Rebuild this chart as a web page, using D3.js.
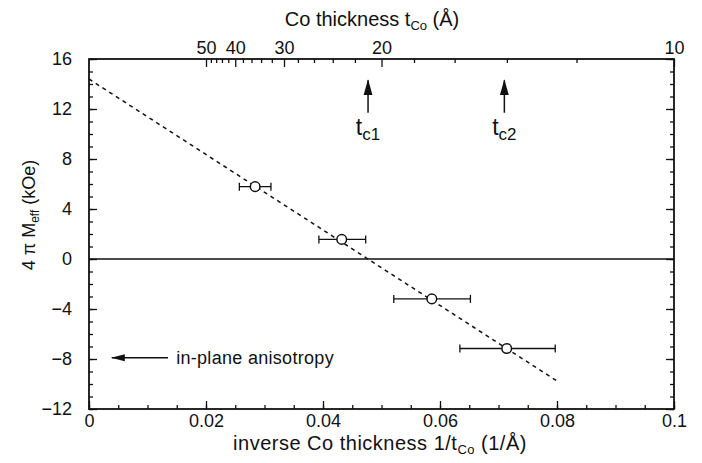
<!DOCTYPE html>
<html><head><meta charset="utf-8">
<script src="https://cdn.jsdelivr.net/npm/d3@7"></script>
<style>body{margin:0;background:#fff}svg text{font-family:"Liberation Sans",Arial,sans-serif;fill:#111}</style>
</head><body><svg id="c" width="702" height="463"></svg>
<script>
// ---- data ----
const xMajorTicks = [0, 0.02, 0.04, 0.06, 0.08, 0.1];
const xTickLabels = ["0", "0.02", "0.04", "0.06", "0.08", "0.1"];
const yMajorTicks = [-12, -8, -4, 0, 4, 8, 12, 16];
const thicknessMajor = [50, 40, 30, 20, 10];
const thicknessMinor = [48, 46, 44, 42, 38, 36, 34, 32, 28, 26, 24, 22, 18, 16, 14, 12];
const invThickness = [0.0284, 0.0432, 0.0586, 0.0714];
const mEff = [5.79, 1.57, -3.19, -7.16];
const errLow = [0.0257, 0.0393, 0.0521, 0.0634];
const errHigh = [0.0311, 0.0473, 0.0652, 0.0797];
const fitX = [0, 0.08];
const fitY = [14.4, -9.76];
const criticalX = [0.0477, 0.0710];
const criticalLabels = ["c1", "c2"];

// ---- layout ----
const svg = d3.select("#c");
const L = 89, R = 674, T = 59, B = 409;
const x = d3.scaleLinear().domain([0, 0.1]).range([L, R]);
const y = d3.scaleLinear().domain([-12, 16]).range([B, T]);
const ink = "#111";

const xMinor = d3.range(0, 0.1001, 0.005);
const yMinor = d3.range(-12, 16.01, 1);

function styleAxis(g) {
  g.select(".domain").remove();
  g.selectAll("line").attr("stroke", ink).attr("stroke-width", 1.3);
  g.selectAll("text").style("font-size", "18px").attr("fill", ink);
}

// bottom
svg.append("g").attr("transform", `translate(0,${B})`)
  .call(d3.axisBottom(x).tickValues(xMinor).tickSize(-4).tickFormat(""))
  .call(styleAxis);
svg.append("g").attr("transform", `translate(0,${B})`)
  .call(d3.axisBottom(x).tickValues(xMajorTicks).tickSize(-8).tickPadding(5)
    .tickFormat((d, i) => xTickLabels[i]))
  .call(styleAxis);
// left
svg.append("g").attr("transform", `translate(${L},0)`)
  .call(d3.axisLeft(y).tickValues(yMinor).tickSize(-4).tickFormat(""))
  .call(styleAxis);
svg.append("g").attr("transform", `translate(${L},0)`)
  .call(d3.axisLeft(y).tickValues(yMajorTicks).tickSize(-8).tickPadding(17).tickFormat(d3.format("d")))
  .call(styleAxis);
// right
svg.append("g").attr("transform", `translate(${R},0)`)
  .call(d3.axisRight(y).tickValues(yMinor).tickSize(-4).tickFormat(""))
  .call(styleAxis);
svg.append("g").attr("transform", `translate(${R},0)`)
  .call(d3.axisRight(y).tickValues(yMajorTicks).tickSize(-8).tickFormat(""))
  .call(styleAxis);
// top (thickness)
svg.append("g").attr("transform", `translate(0,${T})`)
  .call(d3.axisTop(x).tickValues(thicknessMinor.map(t => 1 / t)).tickSize(-4).tickFormat(""))
  .call(styleAxis);
svg.append("g").attr("transform", `translate(0,${T})`)
  .call(d3.axisTop(x).tickValues(thicknessMajor.map(t => 1 / t)).tickSize(-8).tickPadding(5)
    .tickFormat((d, i) => thicknessMajor[i]))
  .call(styleAxis);

// frame
svg.append("rect").attr("x", L).attr("y", T).attr("width", R - L).attr("height", B - T)
  .attr("fill", "none").attr("stroke", ink).attr("stroke-width", 1.8);

// zero line
svg.append("line").attr("x1", L).attr("x2", R).attr("y1", y(0)).attr("y2", y(0))
  .attr("stroke", ink).attr("stroke-width", 1.3);

// fit line
svg.append("path").datum(fitX.map((d, i) => [d, fitY[i]]))
  .attr("d", d3.line().x(d => x(d[0])).y(d => y(d[1])))
  .attr("fill", "none").attr("stroke", ink).attr("stroke-width", 1.5)
  .attr("stroke-dasharray", "4,4");

// error bars
const pts = invThickness.map((d, i) => ({ x: d, y: mEff[i], lo: errLow[i], hi: errHigh[i] }));
const eb = svg.append("g").attr("stroke", ink).attr("stroke-width", 1.3);
pts.forEach(p => {
  eb.append("line").attr("x1", x(p.lo)).attr("x2", x(p.hi)).attr("y1", y(p.y)).attr("y2", y(p.y));
  [p.lo, p.hi].forEach(v => eb.append("line").attr("x1", x(v)).attr("x2", x(v))
    .attr("y1", y(p.y) - 4).attr("y2", y(p.y) + 4));
});
svg.append("g").selectAll("circle").data(pts).join("circle")
  .attr("cx", d => x(d.x)).attr("cy", d => y(d.y)).attr("r", 4.8)
  .attr("fill", "#fff").attr("stroke", ink).attr("stroke-width", 1.5);

// arrowhead markers
const defs = svg.append("defs");
defs.append("marker").attr("id", "ah")
  .attr("viewBox", "0 0 14 10").attr("refX", 13).attr("refY", 5)
  .attr("markerWidth", 14).attr("markerHeight", 10).attr("markerUnits", "userSpaceOnUse")
  .attr("orient", "auto")
  .append("path").attr("d", "M0,1.5 L14,5 L0,8.5 Z").attr("fill", ink);
defs.append("marker").attr("id", "ahv")
  .attr("viewBox", "0 0 16 10").attr("refX", 15).attr("refY", 5)
  .attr("markerWidth", 16).attr("markerHeight", 10).attr("markerUnits", "userSpaceOnUse")
  .attr("orient", "auto")
  .append("path").attr("d", "M0,0.5 L16,5 L0,9.5 Z").attr("fill", ink);

// critical thickness arrows
criticalX.forEach((cx, i) => {
  svg.append("line").attr("x1", x(cx)).attr("x2", x(cx)).attr("y1", y(11.7)).attr("y2", y(14.3))
    .attr("stroke", ink).attr("stroke-width", 1.5).attr("marker-end", "url(#ahv)");
  const t = svg.append("text").attr("x", x(cx)).attr("y", y(9.9)).attr("text-anchor", "middle");
  t.append("tspan").text("t").style("font-size", "23px");
  t.append("tspan").text(criticalLabels[i]).style("font-size", "17px").attr("dy", 5);
});

// in-plane arrow
svg.append("line").attr("x1", x(0.0135)).attr("x2", x(0.0039)).attr("y1", y(-7.9)).attr("y2", y(-7.9))
  .attr("stroke", ink).attr("stroke-width", 1.4).attr("marker-end", "url(#ah)");
svg.append("text").attr("x", x(0.0149)).attr("y", y(-7.9) + 6).style("font-size", "18px")
  .style("letter-spacing", "0.3px").text("in-plane anisotropy");

// axis titles
const tt = svg.append("text").attr("x", 372).attr("y", 26).attr("text-anchor", "middle").style("font-size", "20px");
tt.append("tspan").text("Co thickness t");
tt.append("tspan").text("Co").style("font-size", "13px").attr("dy", 4);
tt.append("tspan").text(" (Å)").attr("dy", -4);

const bt = svg.append("text").attr("x", 380).attr("y", 450).attr("text-anchor", "middle")
  .style("font-size", "20px").style("letter-spacing", "0.5px");
bt.append("tspan").text("inverse Co thickness 1/t");
bt.append("tspan").text("Co").style("font-size", "13px").attr("dy", 4);
bt.append("tspan").text(" (1/Å)").attr("dy", -4);

const yt = svg.append("text").attr("transform", "translate(35,215) rotate(-90)").attr("text-anchor", "middle").style("font-size", "18px");
yt.append("tspan").text("4 π M");
yt.append("tspan").text("eff").style("font-size", "12px").attr("dy", 4);
yt.append("tspan").text(" (kOe)").attr("dy", -4);
</script></body></html>
